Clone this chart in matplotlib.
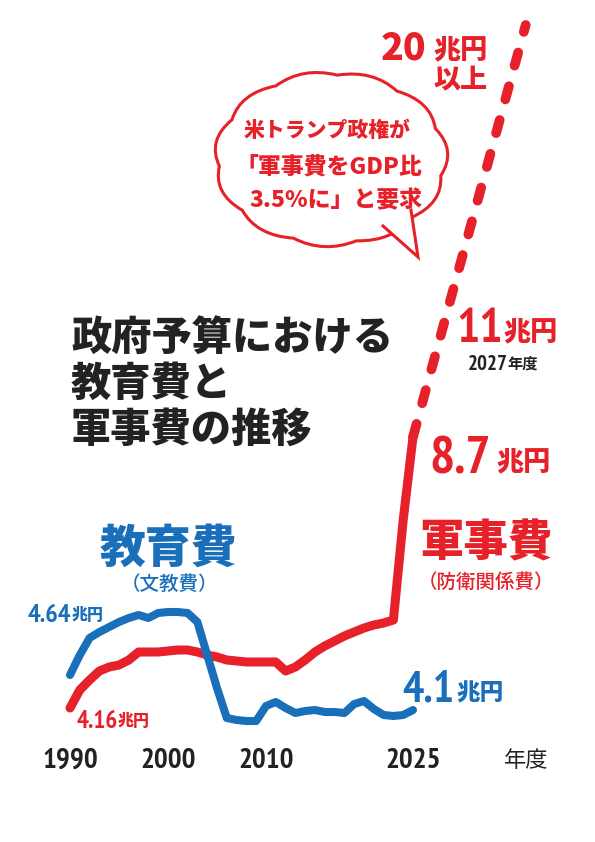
import numpy as np
import matplotlib.pyplot as plt
from matplotlib import font_manager as fm
from matplotlib.path import Path
from matplotlib.patches import PathPatch

RED = '#e62129'
BLUE = '#1a6fba'
INK = '#222222'
JP = 'Noto Sans CJK JP'

# values, as heights above the year labels
# (the graphic has no common y scale, so these are picture units)
years = list(range(1990, 2026))
edu_level = [85, 105, 122, 128, 133, 138, 142, 145, 142, 147, 148, 148, 147,
             138, 105, 72, 42, 40, 39, 39, 54, 58, 52, 47, 49, 50, 48, 48,
             47, 56, 59, 51, 45, 44, 45, 50]
mil_level = [52, 70, 80, 89, 93, 95, 100, 108, 108, 108, 109, 110, 110,
             108, 105, 103, 100, 99, 98, 98, 98, 98, 89, 93, 100, 108, 114,
             119, 124, 128, 132, 135, 137, 140, 240, 323]
plan_years = [2025, 2027, 2036.5]
plan_level = [323, 395, 735]

tick_years = [1990, 2000, 2010, 2025]
tick_labels = ['1990', '2000', '2010', '2025']


# a narrow bold face for the figures, if one is installed
def narrow_bold():
    found = []
    for f in fm.fontManager.ttflist:
        n = f.fname.lower()
        if 'italic' in n or 'oblique' in n:
            continue
        if ('narrow' in n or 'condensed' in n) and 'bold' in n:
            found.append((0 if 'narrow' in n else 1, 'semi' in n, f.fname))
    if found:
        return fm.FontProperties(fname=sorted(found)[0][2])
    return fm.FontProperties(family=JP, weight='bold')


NUMFP = narrow_bold()

fig = plt.figure(figsize=(5.95, 8.42), dpi=100)
fig.patch.set_facecolor('white')

ax = fig.add_axes([0, 0, 1, 1])
ax.set_xlim(1990 - 70 / 9.8, 1990 + 525 / 9.8)
ax.set_ylim(-82, 760)
ax.axis('off')

ax.plot(years, edu_level, color=BLUE, lw=5.8, solid_capstyle='round',
        solid_joinstyle='round', zorder=3)
ax.plot(years, mil_level, color=RED, lw=6.5, solid_capstyle='round',
        solid_joinstyle='round', zorder=2)
dl, = ax.plot(plan_years, plan_level, color=RED, lw=7, dash_capstyle='round',
              zorder=2)
dl.set_dashes((1.4, 2.2))

for yr, lab in zip(tick_years, tick_labels):
    ax.text(yr, -8, lab, ha='center', va='baseline', color=INK,
            fontproperties=NUMFP, fontsize=21)

# overlay in picture pixels for the annotations
deco = fig.add_axes([0, 0, 1, 1], zorder=5)
deco.set_xlim(0, 595)
deco.set_ylim(842, 0)
deco.axis('off')
deco.patch.set_alpha(0)


def put(x, y, s, size, color, ha='left', weight='heavy', va='center', **kw):
    deco.text(x, y, s, fontsize=size, color=color, ha=ha, va=va,
              fontweight=weight, family=JP, **kw)


def num(x, y, s, size, color, ha='left'):
    deco.text(x, y, s, color=color, ha=ha, va='baseline',
              fontproperties=NUMFP, fontsize=size)


put(526, 767, '年度', 16, INK, ha='center', weight='normal', va='baseline')

# title
for i, line in enumerate(['政府予算における', '教育費と', '軍事費の推移']):
    put(71, 338 + 46 * i, line, 29, INK)

# series names
put(168, 549, '教育費', 33, BLUE, ha='center')
put(169, 584, '（文教費）', 14, BLUE, ha='center', weight='medium')
put(486, 543, '軍事費', 32, RED, ha='center')
put(486, 582, '（防衛関係費）', 14, RED, ha='center', weight='medium')

# value labels
num(28, 622, '4.64', 19, BLUE)
put(72, 620, '兆円', 11.5, BLUE, va='baseline')
num(77, 728, '4.16', 18, RED)
put(118, 726, '兆円', 11.5, RED, va='baseline')
num(402, 702, '4.1', 32, BLUE)
put(457, 700, '兆円', 17, BLUE, va='baseline')
num(429, 473, '8.7', 38, RED)
put(496, 470, '兆円', 19.5, RED, va='baseline')
num(456, 342, '11', 35, RED)
put(503, 340, '兆円', 19.5, RED, va='baseline')
num(468, 370, '2027', 15, INK)
put(507, 369, '年度', 11, INK, weight='bold', va='baseline')
put(381, 60, '20', 27, RED, va='baseline')
put(433, 58, '兆円', 19.5, RED, va='baseline')
put(434, 88, '以上', 19.5, RED, va='baseline')

# speech bubble
cx, cy, a, b = 331, 159, 112, 84
n = 11
th = np.linspace(0, 2 * np.pi, n + 1) + 0.2
verts, codes = [], []
for i in range(n):
    p1 = np.array([cx + a * np.cos(th[i + 1]), cy + b * np.sin(th[i + 1])])
    tm = 0.5 * (th[i] + th[i + 1])
    pc = np.array([cx + 1.13 * a * np.cos(tm), cy + 1.13 * b * np.sin(tm)])
    if i == 0:
        verts.append([cx + a * np.cos(th[0]), cy + b * np.sin(th[0])])
        codes.append(Path.MOVETO)
    verts += [pc, p1]
    codes += [Path.CURVE3, Path.CURVE3]
verts.append(verts[0])
codes.append(Path.CLOSEPOLY)
deco.add_patch(PathPatch(Path(verts, codes), facecolor='white',
                         edgecolor=RED, lw=2.2, zorder=1))
tail = np.array([[383, 226], [418, 257], [411, 210]])
deco.add_patch(plt.Polygon(tail, closed=True, facecolor='white',
                           edgecolor='none', zorder=2))
deco.plot(tail[:, 0], tail[:, 1], color=RED, lw=2.2, zorder=3,
          solid_joinstyle='miter')

put(327, 131, '米トランプ政権が', 15, RED, ha='center')
put(329, 168, '「軍事費をGDP比', 16.5, RED, ha='center')
put(336, 201, '3.5%に」と要求', 16.5, RED, ha='center')

fig.savefig('out.png', dpi=100, facecolor='white')
